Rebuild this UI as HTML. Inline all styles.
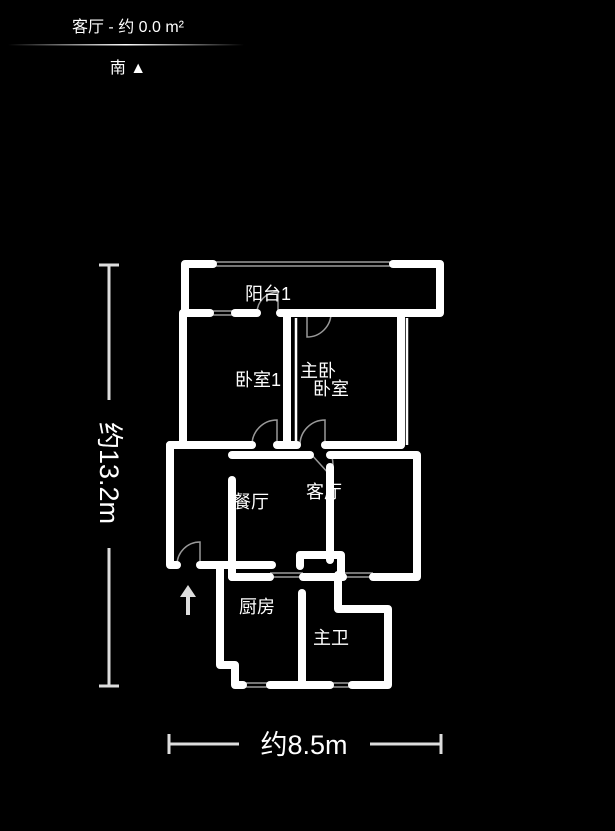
<!DOCTYPE html>
<html><head><meta charset="utf-8"><style>
html,body{margin:0;padding:0;background:#000;width:615px;height:831px;overflow:hidden}
svg{display:block}
text{font-family:"Liberation Sans","Noto Sans CJK SC",sans-serif;fill:#fff}
</style></head><body>
<svg width="615" height="831" viewBox="0 0 615 831" xmlns="http://www.w3.org/2000/svg">
<defs><linearGradient id="g" x1="0" x2="1"><stop offset="0" stop-color="#fff" stop-opacity="0"/><stop offset="0.5" stop-color="#fff"/><stop offset="1" stop-color="#fff" stop-opacity="0"/></linearGradient></defs>
<text x="128" y="32" font-size="16" text-anchor="middle">客厅 - 约 0.0 m²</text>
<rect x="8" y="44" width="236" height="1.5" fill="url(#g)"/>
<text x="128" y="73" font-size="16" text-anchor="middle">南 ▲</text>

<g stroke="#ddd" stroke-width="3" fill="none">
<line x1="109" y1="265" x2="109" y2="400"/><line x1="109" y1="548" x2="109" y2="686"/>
<line x1="99" y1="265" x2="119" y2="265"/><line x1="99" y1="686" x2="119" y2="686"/>
<line x1="168" y1="744" x2="239" y2="744"/><line x1="370" y1="744" x2="441" y2="744"/>
<line x1="169" y1="734" x2="169" y2="754"/><line x1="441" y1="734" x2="441" y2="754"/>
</g>
<text transform="translate(100,473) rotate(90)" font-size="27" text-anchor="middle">约13.2m</text>
<text x="304" y="754" font-size="27" text-anchor="middle">约8.5m</text>

<g stroke="#bbb" stroke-width="1.2">
<line x1="213" y1="262" x2="393" y2="262"/><line x1="213" y1="266" x2="393" y2="266"/>
<line x1="210" y1="311" x2="235" y2="311"/><line x1="210" y1="315" x2="235" y2="315"/>
<line x1="270" y1="573" x2="303" y2="573"/><line x1="270" y1="577" x2="303" y2="577"/>
<line x1="343" y1="573" x2="373" y2="573"/><line x1="343" y1="577" x2="373" y2="577"/>
<line x1="243" y1="683" x2="270" y2="683"/><line x1="243" y1="687" x2="270" y2="687"/>
<line x1="330" y1="683" x2="352" y2="683"/><line x1="330" y1="687" x2="352" y2="687"/>
</g>
<g stroke="#999" stroke-width="1.5" fill="none">
<path d="M257 313 A21 21 0 0 1 278 292 V313"/>
<path d="M307 313 V337 A24 24 0 0 0 331 313"/>
<path d="M252 445 A25 25 0 0 1 277 420 V445"/>
<path d="M300 445 A25 25 0 0 1 325 420 V445"/>
<path d="M310 453 L330 475 A22 22 0 0 0 330 453"/>
<path d="M177 565 A23 23 0 0 1 200 542 V565"/>
</g>
<g stroke="#fff" stroke-width="8" fill="none" stroke-linecap="round" stroke-linejoin="round">
<polyline points="213,264 185,264 185,313 210,313"/>
<polyline points="393,264 440,264 440,313 280,313"/>
<line x1="235" y1="313" x2="257" y2="313"/>
<line x1="183" y1="313" x2="183" y2="442"/>
<line x1="287" y1="313" x2="287" y2="445"/>
<line x1="401" y1="313" x2="401" y2="445"/>
<polyline points="170,445 252,445"/>
<line x1="277" y1="445" x2="297" y2="445"/>
<line x1="325" y1="445" x2="401" y2="445"/>
<line x1="232" y1="455" x2="310" y2="455"/>
<polyline points="330,455 417,455 417,577 373,577"/>
<polyline points="170,445 170,565 177,565"/>
<line x1="200" y1="565" x2="272" y2="565"/>
<line x1="232" y1="480" x2="232" y2="577"/>
<line x1="330" y1="467" x2="330" y2="560"/>
<line x1="232" y1="577" x2="270" y2="577"/>
<line x1="303" y1="577" x2="343" y2="577"/>
<polyline points="300,566 300,555 341,555 341,577"/>
<polyline points="220,566 220,665 235,665 235,685 243,685"/>
<line x1="270" y1="685" x2="302" y2="685"/>
<line x1="302" y1="593" x2="302" y2="685"/>
<line x1="302" y1="685" x2="330" y2="685"/>
<polyline points="352,685 388,685 388,609 338,609 338,575"/>
</g>
<g stroke="#fff" stroke-width="2.5"><line x1="296" y1="318" x2="296" y2="445"/><line x1="407" y1="318" x2="407" y2="445"/></g>
<polygon points="188,585 180,597 186,597 186,615 190,615 190,597 196,597" fill="#ddd"/>

<g font-size="18">
<text x="268" y="300" text-anchor="middle">阳台1</text>
<text x="258" y="386" text-anchor="middle">卧室1</text>
<text x="318" y="377" text-anchor="middle">主卧</text>
<text x="331" y="395" text-anchor="middle">卧室</text>
<text x="251" y="508" text-anchor="middle">餐厅</text>
<text x="324" y="498" text-anchor="middle">客厅</text>
<text x="257" y="613" text-anchor="middle">厨房</text>
<text x="331" y="644" text-anchor="middle">主卫</text>
</g>
</svg>
</body></html>
